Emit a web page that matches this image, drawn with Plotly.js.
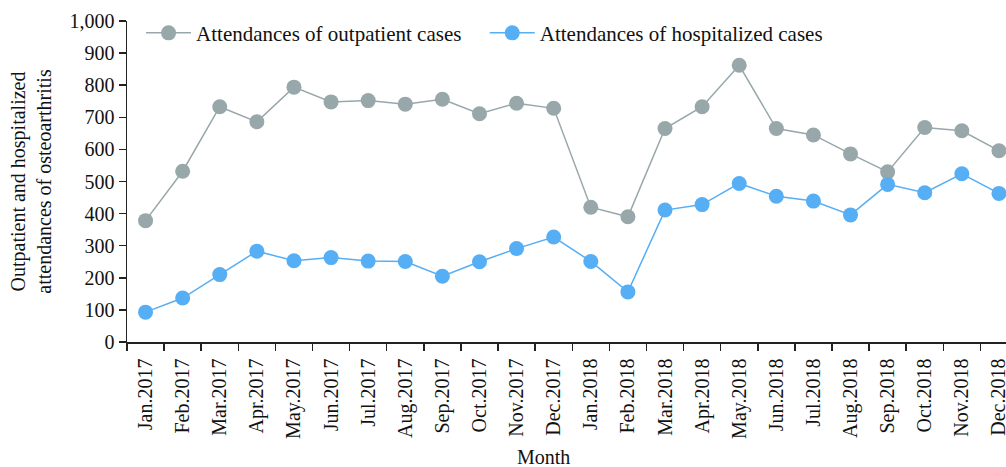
<!DOCTYPE html>
<html>
<head>
<meta charset="utf-8">
<script src="https://cdn.plot.ly/plotly-3.0.1.min.js"></script>
<style>html,body{margin:0;padding:0;background:#fff;}#chart{width:1006px;height:467px;}</style>
</head>
<body>
<div id="chart"></div>
<script>
var months = ["Jan.2017","Feb.2017","Mar.2017","Apr.2017","May.2017","Jun.2017","Jul.2017","Aug.2017","Sep.2017","Oct.2017","Nov.2017","Dec.2017",
              "Jan.2018","Feb.2018","Mar.2018","Apr.2018","May.2018","Jun.2018","Jul.2018","Aug.2018","Sep.2018","Oct.2018","Nov.2018","Dec.2018"];
var outpatient = [378,532,733,686,794,748,752,741,756,711,744,728,
                  420,390,665,733,862,665,645,586,530,668,658,596];
var hospitalized = [93,137,210,283,253,263,252,251,205,250,291,327,
                    251,156,411,428,494,454,439,396,491,465,524,463];
var yTicks = [0,100,200,300,400,500,600,700,800,900,1000];
var yTickText = ["0","100","200","300","400","500","600","700","800","900","1,000"];

var font = "Liberation Serif, Times New Roman, serif";
var gray = "#97a7aa", blue = "#56aef4";

var traces = [
  {x: months, y: outpatient, type: "scatter", mode: "lines+markers", name: "Attendances of outpatient cases",
   line: {color: gray, width: 1.5}, marker: {color: gray, size: 15}, cliponaxis: false, legend: "legend"},
  {x: months, y: hospitalized, type: "scatter", mode: "lines+markers", name: "Attendances of hospitalized cases",
   line: {color: blue, width: 1.5}, marker: {color: blue, size: 15}, cliponaxis: false, legend: "legend2"}
];

var legFont = {family: font, size: 21, color: "#111"};
var layout = {
  width: 1006, height: 467,
  margin: {l: 127, r: 0, t: 21, b: 125},
  paper_bgcolor: "#fff", plot_bgcolor: "#fff",
  font: {family: font, size: 20, color: "#111"},
  showlegend: true,
  legend: {orientation: "h", x: 0.016, y: 0.962, xanchor: "left", yanchor: "middle",
           font: legFont, itemwidth: 45, bgcolor: "rgba(0,0,0,0)"},
  legend2: {orientation: "h", x: 0.407, y: 0.962, xanchor: "left", yanchor: "middle",
           font: legFont, itemwidth: 45, bgcolor: "rgba(0,0,0,0)"},
  xaxis: {
    type: "category", range: [-0.5, 23.19], showgrid: false, zeroline: false,
    showline: true, linecolor: "#222", linewidth: 1.5,
    ticks: "outside", ticklen: 7, tickwidth: 1.5, tickcolor: "#222", tickson: "boundaries",
    tickangle: -90, ticklabelstandoff: 7, tickfont: {family: font, size: 20, color: "#111"}
  },
  yaxis: {
    range: [0, 1000], showgrid: false, zeroline: false,
    showline: true, linecolor: "#222", linewidth: 1.5,
    ticks: "outside", ticklen: 7, tickwidth: 1.5, tickcolor: "#222",
    tickvals: yTicks, ticktext: yTickText, tickfont: {family: font, size: 20, color: "#111"},
    title: {text: "Outpatient and hospitalized<br>attendances of osteoarthritis", font: {family: font, size: 20, color: "#111"}, standoff: 12}
  },
  annotations: [
    {text: "Month", xref: "paper", yref: "paper", x: (543 - 127) / 879, y: -0.359, xanchor: "center", yanchor: "middle",
     showarrow: false, font: {family: font, size: 20, color: "#111"}}
  ]
};

Plotly.newPlot("chart", traces, layout, {displayModeBar: false, staticPlot: true});
</script>
</body>
</html>
